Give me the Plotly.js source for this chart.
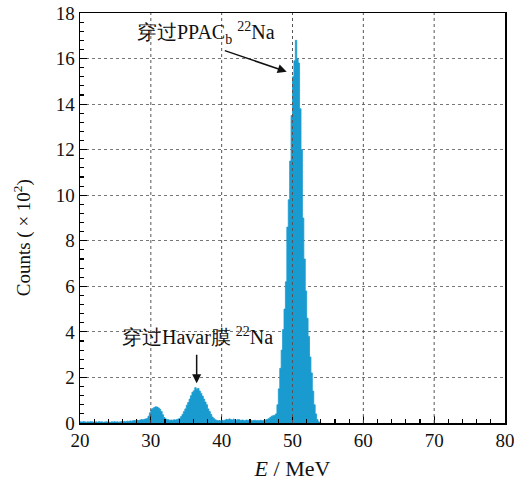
<!DOCTYPE html>
<html>
<head>
<meta charset="utf-8">
<script src="https://cdn.plot.ly/plotly-3.0.1.min.js"></script>
<style>html,body{margin:0;padding:0;background:#fff;}#chart{width:514px;height:487px;}</style>
</head>
<body>
<div id="chart"></div>
<script>
// Histogram: bin start (MeV), bin width (MeV), counts per bin (x10^2)
const binStart = 20.0;
const binWidth = 0.2;
const counts = [
  // 20-26
  0.05,0.04,0.06,0.05,0.03,0.05,0.04,0.06,0.05,0.04,
  0.04,0.05,0.03,0.06,0.04,0.05,0.03,0.04,0.05,0.04,
  0.04,0.03,0.05,0.04,0.06,0.04,0.05,0.03,0.05,0.06,
  // 26-34
  0.06,0.07,0.06,0.08,0.07,
  0.09,0.08,0.10,0.11,0.10,
  0.12,0.11,0.13,0.15,0.14,
  0.16,0.18,0.20,0.30,0.45,
  0.58,0.64,0.68,0.71,0.70,
  0.66,0.60,0.50,0.36,0.24,
  0.18,0.15,0.14,0.12,0.13,
  0.12,0.14,0.13,0.15,0.18,
  // 34-47.8
  0.20,0.28,0.38,0.50,0.62,
  0.78,0.90,1.05,1.20,1.35,
  1.42,1.55,1.48,1.52,1.40,
  1.30,1.18,1.05,0.92,0.80,
  0.62,0.50,0.38,0.26,0.20,
  0.14,0.12,0.10,0.11,0.09,
  0.12,0.10,0.13,0.16,0.14,
  0.18,0.15,0.13,0.17,0.14,
  0.12,0.15,0.14,0.11,0.13,
  0.12,0.10,0.13,0.12,0.11,
  0.12,0.10,0.11,0.12,0.10,
  0.11,0.10,0.12,0.10,0.11,
  0.12,0.14,0.16,0.20,0.25,
  0.30,0.32,0.34,0.40,
  // 47.8-54
  0.80,1.50,2.40,3.20,4.10,5.00,6.20,8.60,9.80,11.5,
  13.5,15.2,15.9,16.8,16.0,15.8,13.8,12.0,9.00,7.20,
  5.80,4.60,3.80,2.90,2.20,1.40,0.80,0.40,0.15,0.05,0.02
];
const binEdges = counts.map((_, i) => +(binStart + i * binWidth).toFixed(2));
const lastEdge = +(binStart + counts.length * binWidth).toFixed(2);

const xTickVals = [20,30,40,50,60,70,80];
const yTickVals = [0,2,4,6,8,10,12,14,16,18];

const serif = 'Liberation Serif';
const barColor = '#1a9bd0';

// step histogram drawn as one filled polygon
const trace = {
  type: 'scatter',
  mode: 'lines',
  x: binEdges.concat([lastEdge]),
  y: counts.concat([0]),
  line: {shape: 'hv', color: barColor, width: 0.8},
  fill: 'tozeroy',
  fillcolor: barColor,
  hoverinfo: 'x+y'
};

const axisCommon = {
  showline: true, linecolor: '#000', linewidth: 1.5, mirror: true,
  ticks: 'inside', ticklen: 7, tickwidth: 1.2, tickcolor: '#000',
  gridcolor: '#777', griddash: 'dot', gridwidth: 1,
  zeroline: false, ticklabeloverflow: 'allow', layer: 'above traces',
  tickfont: {family: serif, size: 19, color: '#111'}
};

// vertical grid lines above the histogram, at the x tick values
const gridShapes = xTickVals.slice(1, -1).map(v => ({
  type: 'line', xref: 'x', yref: 'paper', x0: v, x1: v, y0: 0, y1: 1,
  line: {color: '#555', width: 1, dash: 'dot'}, layer: 'above'
}));

const layout = {
  width: 514, height: 487,
  margin: {l: 80, r: 9, t: 13, b: 64},
  paper_bgcolor: '#fff', plot_bgcolor: '#fff',
  showlegend: false,
  font: {family: serif},
  xaxis: Object.assign({}, axisCommon, {
    range: [20, 80], tickvals: xTickVals, ticktext: xTickVals.map(String),
    showgrid: false,
    minor: {dtick: 2, tick0: 20, ticks: 'inside', ticklen: 4, tickcolor: '#000', showgrid: false},
    title: {text: '<i>E</i> / MeV', font: {family: serif, size: 22, color: '#111'}, standoff: 10}
  }),
  yaxis: Object.assign({}, axisCommon, {
    range: [0, 18], tickvals: yTickVals, ticktext: yTickVals.map(String),
    showgrid: true,
    minor: {dtick: 0.4, tick0: 0, ticks: 'inside', ticklen: 4, tickcolor: '#000', showgrid: false},
    title: {text: ''}
  }),
  shapes: gridShapes,
  annotations: [
    {x: -0.136, y: 0.451, xref: 'paper', yref: 'paper', xanchor: 'center', yanchor: 'middle',
     textangle: -90, text: 'Counts ( × 10<sup>2</sup>)', showarrow: false,
     font: {family: serif, size: 19, color: '#111'}},
    {x: 37.8, y: 17.12, xref: 'x', yref: 'y', text: '穿过PPAC<sub>b</sub> <sup>22</sup>Na',
     showarrow: false, font: {family: serif, size: 20, color: '#111'}},
    {x: 49.18, y: 15.42, ax: 40.23, ay: 16.37, axref: 'x', ayref: 'y', xref: 'x', yref: 'y',
     text: '', showarrow: true, arrowhead: 2, arrowsize: 1.2, arrowwidth: 1.5, arrowcolor: '#111'},
    {x: 36.59, y: 3.82, xref: 'x', yref: 'y', text: '穿过Havar膜 <sup>22</sup>Na',
     showarrow: false, font: {family: serif, size: 20, color: '#111'}},
    {x: 36.47, y: 1.74, ax: 36.47, ay: 3.06, axref: 'x', ayref: 'y', xref: 'x', yref: 'y',
     text: '', showarrow: true, arrowhead: 2, arrowsize: 1.2, arrowwidth: 1.5, arrowcolor: '#111'}
  ]
};

Plotly.newPlot('chart', [trace], layout, {displayModeBar: false, staticPlot: true});
</script>
</body>
</html>
